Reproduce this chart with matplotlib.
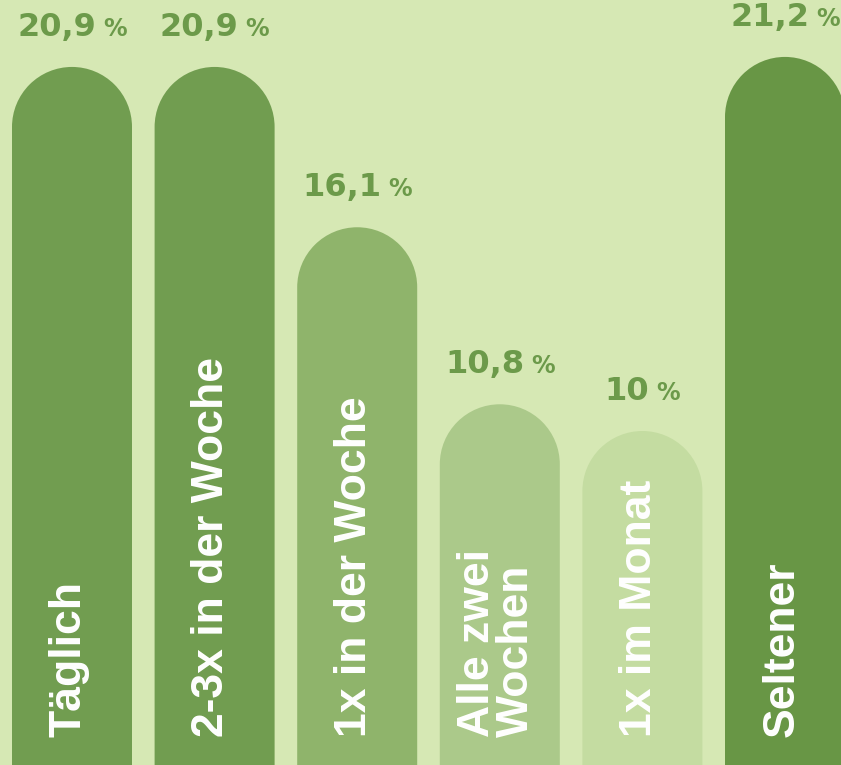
import numpy as np
import matplotlib
matplotlib.use('Agg')
import matplotlib.pyplot as plt
from matplotlib.path import Path
from matplotlib.patches import PathPatch
from matplotlib.offsetbox import TextArea, HPacker, AnnotationBbox

# Daten
kategorien = ['Täglich', '2-3x in der Woche', '1x in der Woche', 'Alle zwei\nWochen', '1x im Monat', 'Seltener']
werte = [20.9, 20.9, 16.1, 10.8, 10.0, 21.2]
wert_labels = ['20,9', '20,9', '16,1', '10,8', '10', '21,2']
farben = ['#719d50', '#719d50', '#8fb46b', '#abc98a', '#c4dca1', '#689645']

bg = '#d6e8b4'
text_farbe = '#6c9a4a'

W, H = 841, 765
fig = plt.figure(figsize=(W / 100, H / 100), dpi=100, facecolor=bg)
ax = fig.add_axes([0, 0, 1, 1])
ax.set_facecolor(bg)

px_x = 142.6   # pixel pro kategorie
px_y = 33.4    # pixel pro prozentpunkt
ax.set_xlim(-72 / px_x, (W - 72) / px_x)
ax.set_ylim(0, H / px_y)
ax.axis('off')

x = np.arange(len(werte))
breite = 120 / px_x
ry = 60 / px_y   # radius der runden kappe in y-einheiten

# Balken mit runder Kappe, jeweils als ein einziger Pfad
bogen = Path.arc(0, 180)
for xi, v, c in zip(x, werte, farben):
    verts = bogen.vertices * [breite / 2, ry] + [xi, v - ry]
    verts = np.vstack([verts, [[xi - breite / 2, 0], [xi + breite / 2, 0], [0, 0]]])
    codes = list(bogen.codes) + [Path.LINETO, Path.LINETO, Path.CLOSEPOLY]
    ax.add_patch(PathPatch(Path(verts, codes), facecolor=c, linewidth=0))

# Werte ueber den Balken
for xi, v, lab in zip(x, werte, wert_labels):
    zahl = TextArea(lab, textprops=dict(color=text_farbe, fontsize=23, fontweight='bold', family='DejaVu Sans'))
    proz = TextArea('%', textprops=dict(color=text_farbe, fontsize=17, fontweight='bold', family='DejaVu Sans'))
    box = HPacker(children=[zahl, proz], align='baseline', pad=0, sep=5)
    ab = AnnotationBbox(box, (xi, v + 24 / px_y), box_alignment=(0.5, 0), frameon=False, pad=0)
    ax.add_artist(ab)

# Kategorien senkrecht im Balken
for xi, kat in zip(x, kategorien):
    ax.text(xi - 3 / px_x, 28 / px_y, kat, rotation=90, ha='center', va='bottom',
            color='white', fontsize=32, fontweight='bold', family='Liberation Sans',
            linespacing=0.95, multialignment='left')

fig.savefig('out.png', dpi=100, facecolor=bg)
